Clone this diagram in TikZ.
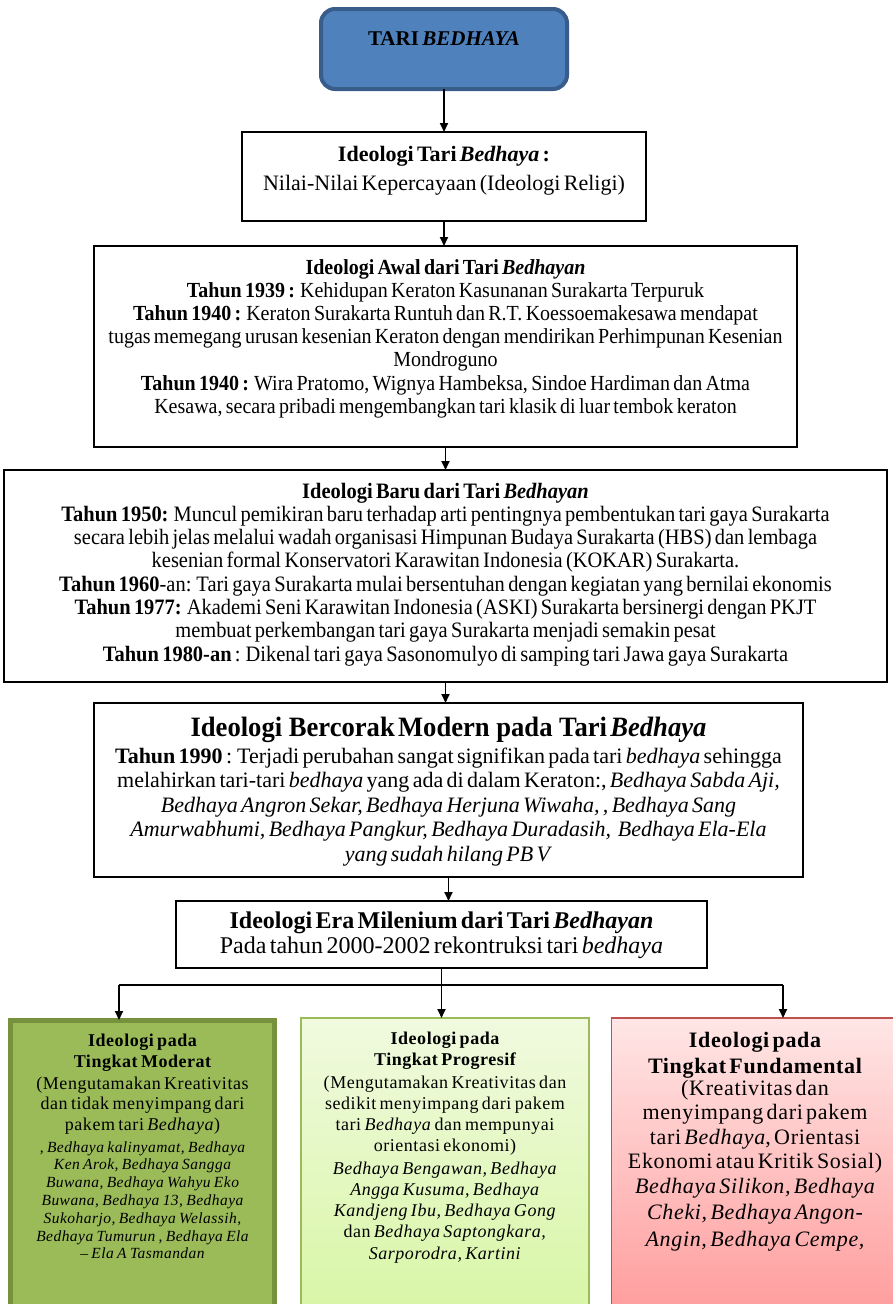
\documentclass[tikz,border=0pt]{standalone}
\usepackage{fontspec}
\setmainfont{Liberation Serif}
\newfontfamily\condA{Liberation Serif}[FakeStretch=0.93]
\newfontfamily\condH{Liberation Serif}[FakeStretch=0.95]
\newfontfamily\spaced{Liberation Serif}[LetterSpace=3]
\usetikzlibrary{arrows.meta}
\definecolor{bluefill}{HTML}{4F81BD}
\definecolor{blueedge}{HTML}{385D8A}
\definecolor{greenfill}{HTML}{9BBB59}
\definecolor{greenedge}{HTML}{76923C}
\definecolor{lgtop}{HTML}{F0FADF}
\definecolor{lgbot}{HTML}{D8F6A6}
\definecolor{pktop}{HTML}{FFE6E6}
\definecolor{pkbot}{HTML}{FF9D9D}
\definecolor{pkedge}{HTML}{C0504D}
\begin{document}
\begin{tikzpicture}[x=1pt,y=-1pt,
  frame/.style={draw=black,line width=1.8pt,fill=white,inner sep=0pt,outer sep=0pt},
  txt/.style={inner sep=0pt,align=center,anchor=base},
  conn/.style={line width=1.8pt},
  arr/.style={line width=1.8pt,-{Triangle[length=9pt,width=8pt]}}]
\useasboundingbox (0,0) rectangle (893,1304);
\fill[white] (0,0) rectangle (893,1304);

% boxes
\node[draw=blueedge,fill=bluefill,line width=4pt,rounded corners=14pt,inner sep=0pt,outer sep=0pt,
      minimum width=246,minimum height=80] (b1) at (444,49) {};
\node[frame,minimum width=404,minimum height=89] (b2) at (444,176.5) {};
\node[frame,minimum width=703,minimum height=201] (b3) at (445.5,346.5) {};
\node[frame,minimum width=883,minimum height=212] (b4) at (445.5,576) {};
\node[frame,minimum width=709,minimum height=174] (b5) at (448.5,790) {};
\node[frame,minimum width=531,minimum height=67] (b6) at (441.5,934.5) {};

\node[draw=greenedge,fill=greenfill,line width=5pt,inner sep=0pt,outer sep=0pt,
      minimum width=264,minimum height=292] (g1) at (142.5,1166) {};
\node[draw=greenfill,top color=lgtop,bottom color=lgbot,line width=1.8pt,inner sep=0pt,outer sep=0pt,
      minimum width=288,minimum height=294] (g2) at (445,1165) {};
\node[draw=pkedge,top color=pktop,bottom color=pkbot,line width=1.8pt,inner sep=0pt,outer sep=0pt,
      minimum width=288,minimum height=294] (g3) at (755.5,1165) {};

% texts
\node[txt,text width=240] (t1) at (444,45)
  {\fontsize{21}{25}\selectfont\bfseries TARI \textit{BEDHAYA}\par};
\node[txt,text width=400] (t2) at (444,161)
  {\fontsize{22}{29}\selectfont\textbf{Ideologi Tari \textit{Bedhaya} :}\\
   Nilai-Nilai Kepercayaan (Ideologi Religi)\par};
\node[txt,text width=700] (t3) at (445.5,274)
  {\condA\fontsize{21.5}{23.2}\selectfont
   \textbf{Ideologi Awal dari Tari \textit{Bedhayan}}\\
   \textbf{Tahun 1939 :} Kehidupan Keraton Kasunanan Surakarta Terpuruk\\
   \textbf{Tahun 1940 :} Keraton Surakarta Runtuh dan R.T.\ Koessoemakesawa mendapat\\
   tugas memegang urusan kesenian Keraton dengan mendirikan Perhimpunan Kesenian\\
   Mondroguno\\
   \textbf{Tahun 1940 :} Wira Pratomo, Wignya Hambeksa, Sindoe Hardiman dan Atma\\
   Kesawa, secara pribadi mengembangkan tari klasik di luar tembok keraton\par};
\node[txt,text width=880] (t4) at (445.5,498)
  {\condA\fontsize{22}{23.3}\selectfont
   \textbf{Ideologi Baru dari Tari \textit{Bedhayan}}\\
   \textbf{Tahun 1950:} Muncul pemikiran baru terhadap arti pentingnya pembentukan tari gaya Surakarta\\
   secara lebih jelas melalui wadah organisasi Himpunan Budaya Surakarta (HBS) dan lembaga\\
   kesenian formal Konservatori Karawitan Indonesia (KOKAR) Surakarta.\\
   \textbf{Tahun 1960}-an: Tari gaya Surakarta mulai bersentuhan dengan kegiatan yang bernilai ekonomis\\
   \textbf{Tahun 1977:} Akademi Seni Karawitan Indonesia (ASKI) Surakarta bersinergi dengan PKJT\\
   membuat perkembangan tari gaya Surakarta menjadi semakin pesat\\
   \textbf{Tahun 1980-an} : Dikenal tari gaya Sasonomulyo di samping tari Jawa gaya Surakarta\par};
\node[txt,text width=705] (t5h) at (448.5,736)
  {\condH\fontsize{28}{30}\selectfont\bfseries Ideologi\ \ Bercorak\ Modern\ \ pada\ \ Tari \textit{Bedhaya}\par};
\node[txt,text width=705] (t5) at (448.5,763)
  {\fontsize{22}{24.5}\selectfont
   \textbf{Tahun 1990} : Terjadi perubahan sangat signifikan pada tari \textit{bedhaya} sehingga\\
   melahirkan tari-tari \textit{bedhaya} yang ada di dalam Keraton:, \textit{Bedhaya Sabda Aji,}\\
   \textit{Bedhaya Angron Sekar, Bedhaya Herjuna Wiwaha, , Bedhaya Sang}\\
   \textit{Amurwabhumi, Bedhaya Pangkur, Bedhaya Duradasih,\ \ Bedhaya Ela-Ela}\\
   \textit{yang sudah hilang PB V}\par};
\node[txt,text width=528] (t6) at (441.5,928)
  {\fontsize{24}{25}\selectfont
   \textbf{Ideologi Era Milenium dari Tari \textit{Bedhayan}}\\
   Pada tahun 2000-2002 rekontruksi tari \textit{bedhaya}\par};

% bottom texts
\node[txt,text width=262] (g1h) at (142.5,1046)
  {\spaced\fontsize{18}{21}\selectfont\bfseries Ideologi pada\\ Tingkat Moderat\par};
\node[txt,text width=262] (g1p) at (142.5,1089)
  {\spaced\fontsize{18}{20.5}\selectfont (Mengutamakan Kreativitas\\ dan tidak menyimpang dari\\ pakem tari \textit{Bedhaya})\par};
\node[txt,text width=262] (g1l) at (142.5,1152)
  {\spaced\fontsize{15.5}{17.8}\selectfont\itshape , Bedhaya kalinyamat, Bedhaya\\ Ken Arok, Bedhaya Sangga\\
   Buwana, Bedhaya Wahyu Eko\\ Buwana, Bedhaya 13, Bedhaya\\ Sukoharjo, Bedhaya Welassih,\\
   Bedhaya Tumurun , Bedhaya Ela\\ – Ela A Tasmandan\par};

\node[txt,text width=286] (g2h) at (445,1044)
  {\spaced\fontsize{18}{21}\selectfont\bfseries Ideologi pada\\ Tingkat Progresif\par};
\node[txt,text width=286] (g2p) at (445,1088)
  {\spaced\fontsize{18}{21.3}\selectfont (Mengutamakan Kreativitas dan\\ sedikit menyimpang dari pakem\\
   tari \textit{Bedhaya} dan mempunyai\\ orientasi ekonomi)\par};
\node[txt,text width=286] (g2l) at (445,1174)
  {\spaced\fontsize{18}{21.3}\selectfont \textit{Bedhaya Bengawan, Bedhaya}\\ \textit{Angga Kusuma, Bedhaya}\\
   \textit{Kandjeng Ibu, Bedhaya Gong}\\ dan \textit{Bedhaya Saptongkara,}\\ \textit{Sarporodra, Kartini}\par};

\node[txt,text width=282] (g3h) at (755,1047)
  {\spaced\fontsize{22}{26}\selectfont\bfseries Ideologi pada\\ Tingkat Fundamental\par};
\node[txt,text width=282] (g3p) at (755,1095)
  {\spaced\fontsize{22}{24.5}\selectfont (Kreativitas dan\\ menyimpang dari pakem\\
   tari \textit{Bedhaya}, Orientasi\\ Ekonomi atau Kritik Sosial)\par};
\node[txt,text width=282] (g3l) at (755,1193)
  {\spaced\fontsize{22}{26.5}\selectfont\itshape Bedhaya Silikon, Bedhaya\\ Cheki, Bedhaya Angon-\\ Angin, Bedhaya Cempe,\par};

% connectors
\draw[arr] (b1.south) -- (b1.south |- b2.north);
\draw[arr] (b2.south) -- (b2.south |- b3.north);
\draw[arr] (b3.south) -- (b3.south |- b4.north);
\draw[arr] (b4.south) -- (b4.south |- b5.north);
\draw[arr] (b5.south) -- (b5.south |- b6.north);
\coordinate (sp) at (441.5,985);
\coordinate (h1) at (119,985);
\coordinate (h3) at (783,985);
\draw[conn] (b6.south) -- (sp);
\draw[conn] (h1) -- (h3);
\draw[arr] (h1) -- (h1 |- g1.north);
\draw[arr] (sp) -- (sp |- g2.north);
\draw[arr] (h3) -- (h3 |- g3.north);
\end{tikzpicture}
\end{document}
